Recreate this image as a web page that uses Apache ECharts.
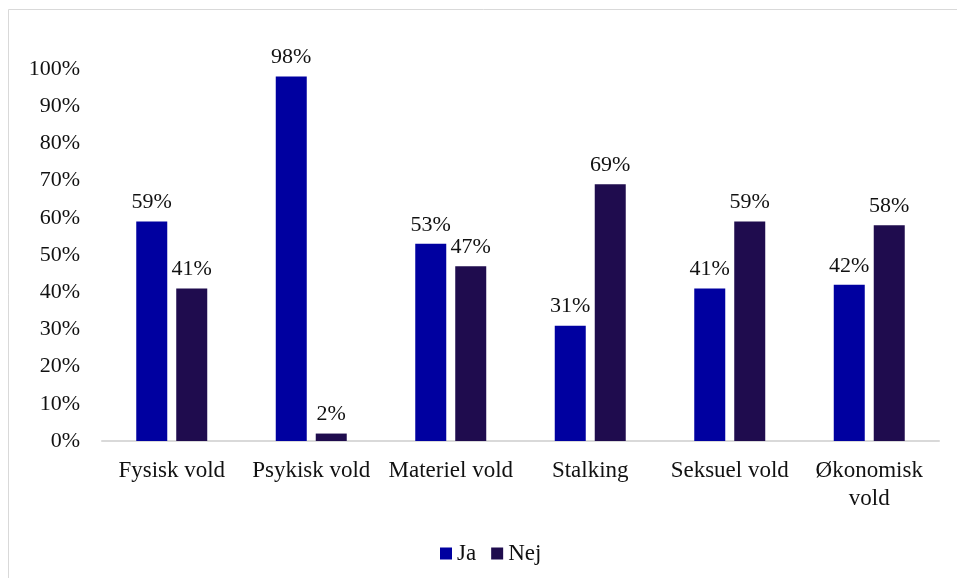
<!DOCTYPE html>
<html>
<head>
<meta charset="utf-8">
<script src="https://cdn.jsdelivr.net/npm/echarts@6/dist/echarts.min.js"></script>
<style>
html,body{margin:0;padding:0;background:#fff;}
#c{width:957px;height:578px;}
</style>
</head>
<body>
<div id="c"></div>
<script>
const categories = ['Fysisk vold', 'Psykisk vold', 'Materiel vold', 'Stalking', 'Seksuel vold', 'Økonomisk\nvold'];
const jaValues = [59, 98, 53, 31, 41, 42];
const nejValues = [41, 2, 47, 69, 59, 58];
const seriesNames = ['Ja', 'Nej'];

const FONT = '"Liberation Serif", "Times New Roman", serif';
const chart = echarts.init(document.getElementById('c'), null, {renderer: 'canvas'});
const labelStyle = {
  show: true, position: 'top', distance: 8,
  formatter: p => p.value + '%',
  fontFamily: FONT, fontSize: 22, color: '#111'
};
chart.setOption({
  animation: false,
  backgroundColor: '#fff',
  graphic: [{
    type: 'rect', shape: {x: 8.5, y: 9.5, width: 1000, height: 1000},
    style: {fill: 'none', stroke: '#d9d9d9', lineWidth: 1}, silent: true
  }],
  grid: {left: 102, right: 18, top: 69, bottom: 137, containLabel: false},
  legend: {
    data: seriesNames, top: 537, left: 435,
    itemWidth: 12, itemHeight: 12, itemGap: 15, icon: 'rect',
    textStyle: {fontFamily: FONT, fontSize: 23, color: '#111'}
  },
  xAxis: {
    type: 'category', data: categories,
    axisLine: {lineStyle: {color: '#d9d9d9', width: 2}},
    axisTick: {show: false},
    axisLabel: {fontFamily: FONT, fontSize: 23, color: '#111', margin: 16, lineHeight: 28, interval: 0}
  },
  yAxis: {
    type: 'value', min: 0, max: 100, interval: 10,
    axisLine: {show: false}, axisTick: {show: false},
    splitLine: {show: false},
    axisLabel: {fontFamily: FONT, fontSize: 22, color: '#111', margin: 22, formatter: v => v + '%'}
  },
  series: [
    {name: seriesNames[0], type: 'bar', data: jaValues, barWidth: 31, barGap: '29%',
     itemStyle: {color: '#0000a0'}, label: labelStyle},
    {name: seriesNames[1], type: 'bar', data: nejValues, barWidth: 31,
     itemStyle: {color: '#1f0c4e'}, label: labelStyle}
  ]
});
</script>
</body>
</html>
